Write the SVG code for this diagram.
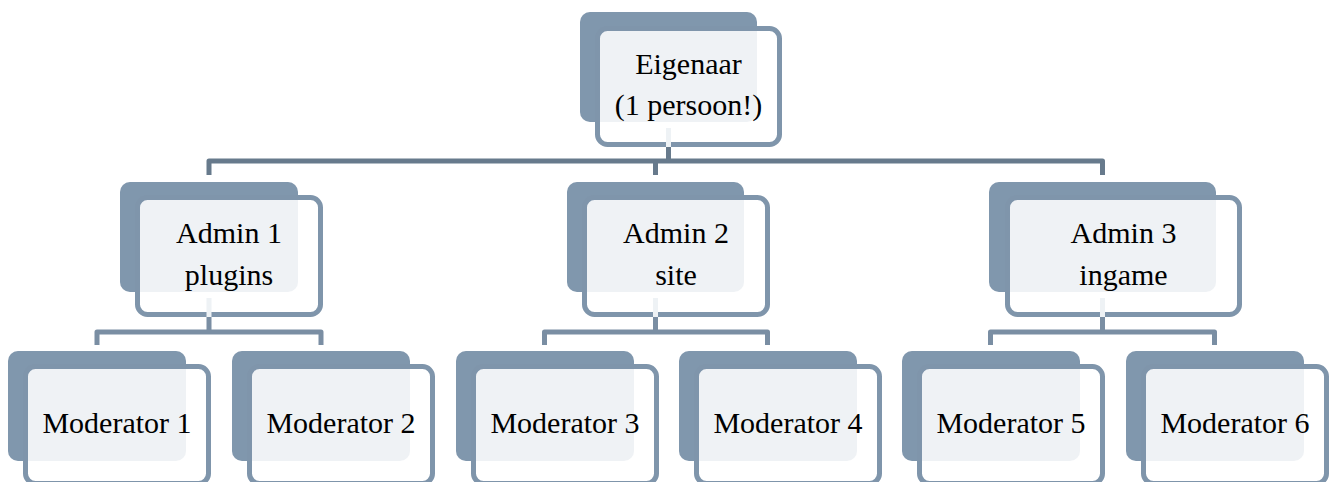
<svg xmlns="http://www.w3.org/2000/svg" width="1335" height="482" viewBox="0 0 1335 482">
<style>
.back{fill:#8097ad}
.front{fill:#ffffff;stroke:#7f95ab;stroke-width:5}
.tint{fill:#8097ad;fill-opacity:0.125}
.lbl{font-family:"Liberation Serif","Times New Roman",serif;font-size:30px;fill:#000;text-anchor:middle}
.c1{fill:none;stroke:#677a8c;stroke-width:5;stroke-linejoin:round}
.c2{fill:none;stroke:#7a8ea3;stroke-width:5;stroke-linejoin:round}
.gap{fill:#eef2f5}
</style>
<rect width="1335" height="482" fill="#ffffff"/>
<g id="eigenaar">
<rect class="back" x="580" y="12" width="177" height="110" rx="10"/>
<rect class="front" x="597.5" y="28.5" width="182" height="116" rx="10"/>
<rect class="tint" x="580" y="12" width="177" height="110" rx="10"/>
<text class="lbl" x="688.5" y="74">Eigenaar</text>
<text class="lbl" x="688.5" y="115">(1 persoon!)</text>
</g>
<g id="admin1">
<rect class="back" x="120" y="182" width="178" height="110" rx="10"/>
<rect class="front" x="137.5" y="197.5" width="183" height="117" rx="10"/>
<rect class="tint" x="120" y="182" width="178" height="110" rx="10"/>
<text class="lbl" x="229" y="243">Admin 1</text>
<text class="lbl" x="229" y="285">plugins</text>
</g>
<g id="admin2">
<rect class="back" x="567" y="182" width="177" height="110" rx="10"/>
<rect class="front" x="584.5" y="197.5" width="183" height="117" rx="10"/>
<rect class="tint" x="567" y="182" width="177" height="110" rx="10"/>
<text class="lbl" x="676" y="243">Admin 2</text>
<text class="lbl" x="676" y="285">site</text>
</g>
<g id="admin3">
<rect class="back" x="989" y="182" width="227" height="110" rx="10"/>
<rect class="front" x="1007.5" y="197.5" width="232" height="117" rx="10"/>
<rect class="tint" x="989" y="182" width="227" height="110" rx="10"/>
<text class="lbl" x="1123.5" y="243">Admin 3</text>
<text class="lbl" x="1123.5" y="285">ingame</text>
</g>
<g id="mod1">
<rect class="back" x="8" y="351" width="178" height="110" rx="10"/>
<rect class="front" x="25.5" y="366.5" width="183" height="117" rx="10"/>
<rect class="tint" x="8" y="351" width="178" height="110" rx="10"/>
<text class="lbl" x="117" y="433">Moderator 1</text>
</g>
<g id="mod2">
<rect class="back" x="232" y="351" width="178" height="110" rx="10"/>
<rect class="front" x="249.5" y="366.5" width="183" height="117" rx="10"/>
<rect class="tint" x="232" y="351" width="178" height="110" rx="10"/>
<text class="lbl" x="341" y="433">Moderator 2</text>
</g>
<g id="mod3">
<rect class="back" x="456" y="351" width="178" height="110" rx="10"/>
<rect class="front" x="473.5" y="366.5" width="183" height="117" rx="10"/>
<rect class="tint" x="456" y="351" width="178" height="110" rx="10"/>
<text class="lbl" x="565" y="433">Moderator 3</text>
</g>
<g id="mod4">
<rect class="back" x="679" y="351" width="178" height="110" rx="10"/>
<rect class="front" x="696.5" y="366.5" width="183" height="117" rx="10"/>
<rect class="tint" x="679" y="351" width="178" height="110" rx="10"/>
<text class="lbl" x="788" y="433">Moderator 4</text>
</g>
<g id="mod5">
<rect class="back" x="902" y="351" width="178" height="110" rx="10"/>
<rect class="front" x="919.5" y="366.5" width="183" height="117" rx="10"/>
<rect class="tint" x="902" y="351" width="178" height="110" rx="10"/>
<text class="lbl" x="1011" y="433">Moderator 5</text>
</g>
<g id="mod6">
<rect class="back" x="1126" y="351" width="178" height="110" rx="10"/>
<rect class="front" x="1143.5" y="366.5" width="183" height="117" rx="10"/>
<rect class="tint" x="1126" y="351" width="178" height="110" rx="10"/>
<text class="lbl" x="1235" y="433">Moderator 6</text>
</g>
<g id="connectors">
<rect class="gap" x="666" y="128" width="5" height="19"/>
<rect class="gap" x="206.5" y="298" width="5" height="19"/>
<rect class="gap" x="653" y="298" width="5" height="19"/>
<rect class="gap" x="1100" y="298" width="5" height="19"/>
<path class="c1" d="M668.5 147V161M209 175V161H1102.5V175M655.5 161V175"/>
<path class="c2" d="M209 317V332M97 345V332H321V345"/>
<path class="c2" d="M655.5 317V332M544.5 345V332H767.5V345"/>
<path class="c2" d="M1102.5 317V332M990.5 345V332H1214.5V345"/>
</g>
</svg>
